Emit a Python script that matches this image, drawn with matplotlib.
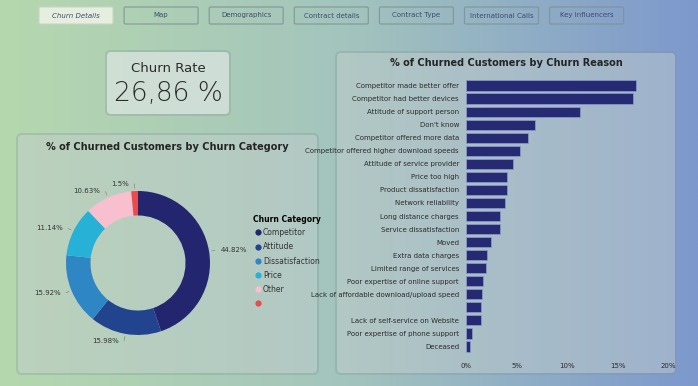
import numpy as np
import matplotlib.pyplot as plt
from matplotlib.patches import FancyBboxPatch
from matplotlib.lines import Line2D
import matplotlib.colors as mcolors

plt.rcParams['font.family'] = ['Liberation Sans Narrow', 'DejaVu Sans']

# Données
nav_tabs = ["Churn Details", "Map", "Demographics", "Contract details",
            "Contract Type", "International Calls", "Key Influencers"]

churn_rate_label = "26,86 %"

categories = ["Competitor", "Attitude", "Dissatisfaction", "Price", "Other", ""]
category_pct = [44.82, 15.98, 15.92, 11.14, 10.63, 1.5]
category_colors = ["#23266f", "#22448f", "#2f86c5", "#27b1d6", "#f8bfcf", "#e84c4f"]

reasons = ["Competitor made better offer", "Competitor had better devices",
           "Attitude of support person", "Don't know",
           "Competitor offered more data", "Competitor offered higher download speeds",
           "Attitude of service provider", "Price too high",
           "Product dissatisfaction", "Network reliability",
           "Long distance charges", "Service dissatisfaction", "Moved",
           "Extra data charges", "Limited range of services",
           "Poor expertise of online support",
           "Lack of affordable download/upload speed", "",
           "Lack of self-service on Website", "Poor expertise of phone support",
           "Deceased"]
reason_pct = [16.8, 16.5, 11.3, 6.8, 6.1, 5.3, 4.65, 4.1, 4.05, 3.85, 3.4, 3.35,
              2.45, 2.05, 1.95, 1.65, 1.55, 1.5, 1.45, 0.6, 0.35]
x_ticks = [0, 5, 10, 15, 20]

W, H = 698, 386
fig = plt.figure(figsize=(W / 100, H / 100), dpi=100)

# Fond en dégradé
bg = fig.add_axes([0, 0, 1, 1])
c_left = np.array(mcolors.to_rgb("#b6d8ae"))
c_mid = np.array(mcolors.to_rgb("#a3c4bd"))
c_right = np.array(mcolors.to_rgb("#7d98cd"))
t = np.linspace(0, 1, 400)[:, None]
grad = np.where(t < 0.5, c_left + (c_mid - c_left) * (t / 0.5),
                c_mid + (c_right - c_mid) * ((t - 0.5) / 0.5))
bg.imshow(grad[None, :, :], extent=(0, W, H, 0), aspect='auto')
bg.set_xlim(0, W)
bg.set_ylim(H, 0)
bg.axis('off')


def card(x0, y0, x1, y1, fc="white", alpha=0.22, r=4):
    shadow = FancyBboxPatch((x0 - 2, y0 - 2), x1 - x0 + 4, y1 - y0 + 4,
                            boxstyle=f"round,pad=0,rounding_size={r + 2}",
                            fc="#7f9696", ec="none", alpha=0.3)
    bg.add_patch(shadow)
    box = FancyBboxPatch((x0, y0), x1 - x0, y1 - y0,
                         boxstyle=f"round,pad=0,rounding_size={r}",
                         fc=fc, ec="none", alpha=alpha)
    bg.add_patch(box)


# Onglets de navigation
for i, tab in enumerate(nav_tabs):
    x0 = 39 + i * 85.1
    if i == 0:
        bg.add_patch(FancyBboxPatch((x0, 7), 74, 17, boxstyle="round,pad=0,rounding_size=1.5",
                                    fc="#e6eee0", ec="#c8d6c4", lw=0.8))
        bg.text(x0 + 37, 15.5, tab, ha='center', va='center', fontsize=5,
                style='italic', color="#3c4a6c")
    else:
        bg.add_patch(FancyBboxPatch((x0, 7), 74, 17, boxstyle="round,pad=0,rounding_size=1.5",
                                    fc="none", ec="#7f9192", lw=0.9, alpha=0.8))
        bg.text(x0 + 37, 15.5, tab, ha='center', va='center', fontsize=5,
                color="#3c4a6c")

# Carte taux de churn
card(107, 52, 229, 114, alpha=0.5)
bg.text(168, 68, "Churn Rate", ha='center', va='center', fontsize=9.5, color="#2b2b2b")
bg.text(168, 93, churn_rate_label, ha='center', va='center', fontsize=19,
        color="#2b2b2b", fontweight='light')

# Carte donut
card(18, 135, 317, 373, alpha=0.25)
bg.text(167, 147, "% of Churned Customers by Churn Category", ha='center', va='center',
        fontsize=7, color="#252525", fontweight='bold')

# Carte barres
card(337, 53, 675, 373, alpha=0.25)
bg.text(506, 63, "% of Churned Customers by Churn Reason", ha='center', va='center',
        fontsize=7, color="#252525", fontweight='bold')

# Donut
cx, cy, half = 138, 263, 90
ax1 = fig.add_axes([(cx - half) / W, (H - cy - half) / H, 2 * half / W, 2 * half / H])
ax1.set_facecolor('none')
wedges, _ = ax1.pie(category_pct, colors=category_colors, startangle=90, counterclock=False,
                    radius=1, wedgeprops=dict(width=0.34, edgecolor='none'))
ax1.set_xlim(-1.25, 1.25)
ax1.set_ylim(-1.25, 1.25)
ax1.set_aspect('equal')

for w, pct in zip(wedges, category_pct):
    ang = (w.theta2 + w.theta1) / 2.0
    xx = np.cos(np.deg2rad(ang))
    yy = np.sin(np.deg2rad(ang))
    sgn = 1 if xx >= 0 else -1
    ha = 'left' if sgn > 0 else 'right'
    label = f"{pct:g}%"
    ax1.annotate(label, xy=(xx, yy), xytext=(1.08 * xx + 0.08 * sgn, 1.1 * yy),
                 ha=ha, va='center', fontsize=5, color="#333333",
                 arrowprops=dict(arrowstyle='-', color="#888888", lw=0.5,
                                 connectionstyle=f"angle,angleA=0,angleB={ang}"),
                 annotation_clip=False)

handles = [Line2D([0], [0], marker='o', ls='none', markersize=4.5,
                  markerfacecolor=c, markeredgecolor='none') for c in category_colors]
leg = fig.legend(handles, categories, title="Churn Category", loc='upper left',
                 bbox_to_anchor=(253 / W, 1 - 215 / H), frameon=False, fontsize=5.5,
                 title_fontproperties={'size': 5.5, 'weight': 'bold'},
                 handletextpad=0.1, labelspacing=0.68, handlelength=1.2,
                 borderaxespad=0, borderpad=0)
leg._legend_box.align = "left"
leg._legend_box.sep = 3
for txt in leg.get_texts():
    txt.set_color("#333333")

# Barres horizontales
top_px, bot_px = 79, 353
ax2 = fig.add_axes([466 / W, (H - bot_px) / H, 202 / W, (bot_px - top_px) / H])
ax2.set_facecolor('none')
y = np.arange(len(reasons))
ax2.barh(y, reason_pct, height=0.78, color="#252a72", edgecolor="#8f9bd2", linewidth=0.5)
ax2.set_ylim(len(reasons) - 0.5, -0.5)
ax2.set_xlim(0, 20)
ax2.set_yticks(y)
ax2.set_yticklabels(reasons, fontsize=5, color="#2b2b2b")
ax2.set_xticks(x_ticks)
ax2.set_xticklabels([f"{v}%" for v in x_ticks], fontsize=5, color="#2b2b2b")
ax2.tick_params(length=0, pad=5)
ax2.tick_params(axis='x', pad=7)
for s in ax2.spines.values():
    s.set_visible(False)

fig.savefig("out.png", dpi=100)
